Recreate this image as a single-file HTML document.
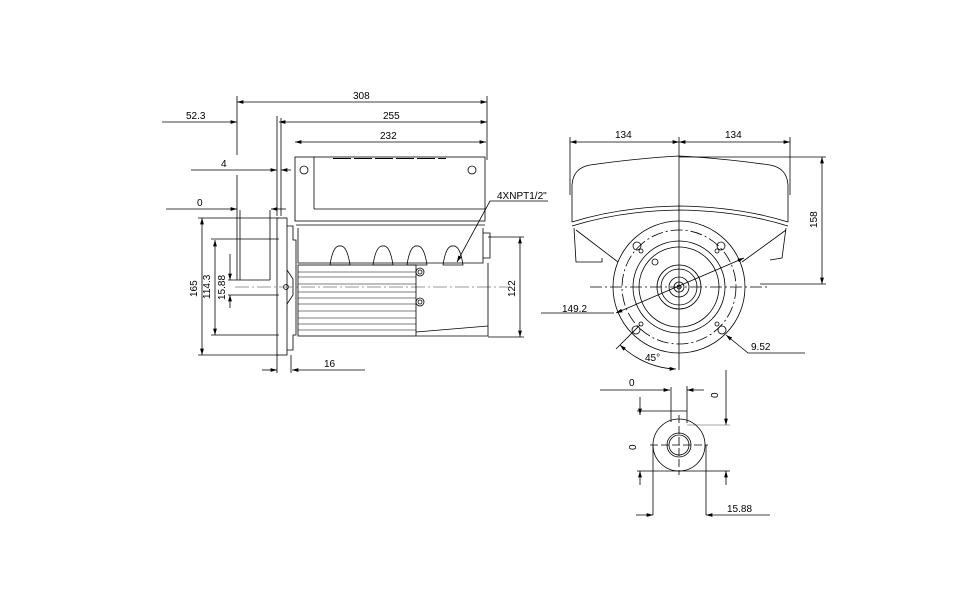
<!DOCTYPE html>
<html><head><meta charset="utf-8"><style>
html,body{margin:0;padding:0;background:#fff;}
svg{display:block;}
text{font-family:"Liberation Sans",Arial,sans-serif;font-size:10px;fill:#000;}
</style></head><body>
<svg width="976" height="600" viewBox="0 0 976 600" xmlns="http://www.w3.org/2000/svg">
<defs>
<marker id="a" viewBox="0 0 10 6" refX="10" refY="3" markerWidth="8" markerHeight="5" orient="auto-start-reverse"><path d="M0,0 L10,3 L0,6z" fill="#000"/></marker>
</defs>
<g stroke="#000" stroke-width="0.8" fill="none">
<line x1="237" y1="102" x2="487" y2="102" marker-start="url(#a)" marker-end="url(#a)"/>
<line x1="162" y1="122" x2="237" y2="122" marker-end="url(#a)"/>
<line x1="279" y1="122" x2="487" y2="122" marker-start="url(#a)" marker-end="url(#a)"/>
<line x1="295" y1="142" x2="486" y2="142" marker-start="url(#a)" marker-end="url(#a)"/>
<line x1="191" y1="170" x2="277" y2="170" marker-end="url(#a)"/>
<line x1="281" y1="170" x2="291" y2="170" marker-start="url(#a)"/>
<line x1="166" y1="209" x2="237" y2="209" marker-end="url(#a)"/>
<line x1="271" y1="209" x2="286" y2="209" marker-start="url(#a)"/>
<line x1="237" y1="96" x2="237" y2="155"/>
<line x1="237" y1="175" x2="237" y2="280"/>
<line x1="277" y1="116" x2="277" y2="216"/>
<line x1="281" y1="118" x2="281" y2="216"/>
<line x1="487" y1="96" x2="487" y2="160"/>
<line x1="202" y1="218" x2="202" y2="355" marker-start="url(#a)" marker-end="url(#a)"/>
<line x1="198" y1="218" x2="279" y2="218"/>
<line x1="198" y1="355" x2="279" y2="355"/>
<line x1="215" y1="240" x2="215" y2="335" marker-start="url(#a)" marker-end="url(#a)"/>
<line x1="211" y1="239" x2="279" y2="239"/>
<line x1="211" y1="335" x2="279" y2="335"/>
<line x1="230" y1="254" x2="230" y2="280" marker-end="url(#a)"/>
<line x1="230" y1="295" x2="230" y2="308" marker-start="url(#a)"/>
<line x1="228" y1="280" x2="270" y2="280"/>
<line x1="228" y1="295" x2="279" y2="295"/>
<line x1="520" y1="237" x2="520" y2="337" marker-start="url(#a)" marker-end="url(#a)"/>
<line x1="488" y1="237" x2="524" y2="237"/>
<line x1="488" y1="337" x2="524" y2="337"/>
<line x1="262" y1="370" x2="277" y2="370" marker-end="url(#a)"/>
<line x1="292" y1="370" x2="365" y2="370" marker-start="url(#a)"/>
<line x1="277" y1="355" x2="277" y2="373"/>
<line x1="291" y1="355" x2="291" y2="373"/>
<line x1="240" y1="210" x2="240" y2="280"/>
<line x1="270" y1="210" x2="270" y2="280"/>
<rect x="277" y="218" width="10" height="137"/>
<path d="M287,226 L293,226 L293,240 L296,240 L296,335 L293,335 L293,350 L287,350"/>
<path d="M287,270 L293,279 L293,295 L287,304"/>
<circle cx="286" cy="287" r="2.5"/>
<line x1="235" y1="287" x2="508" y2="287" stroke="#777" stroke-dasharray="14,3,2,3"/>
<rect x="295" y="157" width="190" height="64"/>
<line x1="314" y1="157" x2="314" y2="209"/>
<line x1="314" y1="209" x2="485" y2="209"/>
<line x1="333" y1="158.5" x2="446" y2="158.5" stroke-width="1" stroke-dasharray="18,3"/>
<circle cx="304" cy="170" r="4"/>
<circle cx="472" cy="170" r="4"/>
<line x1="296" y1="225" x2="485" y2="225"/>
<path d="M298,228 L298,263 L483,263 L483,228"/>
<path d="M483,233 L490,233 L490,258 L483,258"/>
<path d="M330,265 Q333,245 340,246 Q347,245 350,265z"/>
<path d="M373,265 Q376,245 383,246 Q390,245 393,265z"/>
<path d="M407,265 Q410,245 417,246 Q424,245 427,265z"/>
<path d="M443,265 Q446,245 453,246 Q460,245 463,265z"/>
<rect x="298" y="265" width="118" height="71"/>
<g stroke-width="0.6">
<line x1="298" y1="272" x2="416" y2="272"/><line x1="298" y1="277" x2="416" y2="277"/>
<line x1="298" y1="284" x2="416" y2="284"/><line x1="298" y1="292" x2="416" y2="292"/>
<line x1="298" y1="298" x2="416" y2="298"/><line x1="298" y1="304" x2="416" y2="304"/>
<line x1="298" y1="311" x2="416" y2="311"/><line x1="298" y1="318" x2="416" y2="318"/>
<line x1="298" y1="324" x2="416" y2="324"/><line x1="298" y1="330" x2="416" y2="330"/>
</g>
<circle cx="420" cy="272" r="4"/><circle cx="420" cy="272" r="2"/>
<circle cx="420" cy="302" r="4"/><circle cx="420" cy="302" r="2"/>
<path d="M416,332 L488,326"/>
<path d="M416,336 L488,336 L488,263"/>
<path d="M548,201 L490,201 L457,262" marker-end="url(#a)"/>
<line x1="570" y1="142" x2="679" y2="142" marker-start="url(#a)" marker-end="url(#a)"/>
<line x1="679" y1="142" x2="790" y2="142" marker-start="url(#a)" marker-end="url(#a)"/>
<line x1="570" y1="137" x2="570" y2="195"/>
<line x1="790" y1="137" x2="790" y2="195"/>
<line x1="679" y1="137" x2="679" y2="370"/>
<line x1="822" y1="157" x2="822" y2="284" marker-start="url(#a)" marker-end="url(#a)"/>
<line x1="679" y1="157" x2="826" y2="157"/>
<line x1="760" y1="284" x2="826" y2="284"/>
<path d="M572,222 L572,185 Q573,168 590,165 Q640,158 679,156 Q720,158 770,165 Q787,168 788,185 L788,222"/>
<path d="M572,222 Q620,207 679,206 Q740,207 788,222"/>
<path d="M572,226 Q620,211 679,210 Q740,211 788,226"/>
<path d="M574,228 L576,262 L602,262 L602,258"/>
<path d="M786,228 L782,258 L770,260"/>
<path d="M576,230 L618,262"/>
<path d="M786,230 L742,262"/>
<circle cx="679" cy="287" r="66"/>
<circle cx="679" cy="287" r="57" stroke-dasharray="12,3,2,3"/>
<circle cx="679" cy="287" r="46"/>
<circle cx="679" cy="287" r="40"/>
<circle cx="679" cy="287" r="22"/>
<circle cx="679" cy="287" r="18"/>
<circle cx="679" cy="287" r="10"/>
<circle cx="679" cy="287" r="5"/>
<circle cx="679" cy="287" r="2"/>
<circle cx="637" cy="246" r="4"/><circle cx="641" cy="251" r="2"/>
<circle cx="721" cy="246" r="4"/><circle cx="717" cy="251" r="2"/>
<circle cx="636" cy="330" r="4"/><circle cx="641" cy="324" r="2"/>
<circle cx="722" cy="330" r="4"/><circle cx="717" cy="324" r="2"/>
<circle cx="655" cy="262" r="3"/>
<line x1="590" y1="287" x2="770" y2="287" stroke-dasharray="12,3,2,3"/>
<path d="M541,313 L614,313"/>
<line x1="616" y1="313" x2="744" y2="258" marker-start="url(#a)" marker-end="url(#a)"/>
<path d="M805,353 L748,353 L726,335" marker-end="url(#a)"/>
<path d="M620,345 Q645,368 676,369" marker-start="url(#a)" marker-end="url(#a)"/>
<line x1="616" y1="349" x2="640" y2="325"/>
<line x1="600" y1="390" x2="670" y2="390" marker-end="url(#a)"/>
<line x1="687" y1="390" x2="704" y2="390" marker-start="url(#a)"/>
<line x1="671" y1="387" x2="671" y2="422"/>
<line x1="687" y1="386" x2="687" y2="423"/>
<line x1="640" y1="397" x2="640" y2="415" marker-end="url(#a)"/>
<line x1="640" y1="471" x2="640" y2="485" marker-start="url(#a)"/>
<line x1="637" y1="411" x2="687" y2="411"/>
<line x1="726" y1="370" x2="726" y2="425" marker-end="url(#a)"/>
<line x1="726" y1="471" x2="726" y2="485" marker-start="url(#a)"/>
<line x1="687" y1="425" x2="730" y2="425" stroke="#888"/>
<line x1="637" y1="471" x2="730" y2="471"/>
<circle cx="679" cy="445" r="26"/>
<circle cx="679" cy="445" r="12"/>
<circle cx="679" cy="445" r="10"/>
<line x1="650" y1="445" x2="708" y2="445" stroke-dasharray="8,3"/>
<line x1="679" y1="415" x2="679" y2="475" stroke-dasharray="8,3"/>
<line x1="653" y1="445" x2="653" y2="515"/>
<line x1="706" y1="445" x2="706" y2="515"/>
<line x1="636" y1="515" x2="653" y2="515" marker-end="url(#a)"/>
<line x1="706" y1="515" x2="770" y2="515" marker-start="url(#a)"/>
</g>
<text x="353" y="99">308</text>
<text x="186" y="119">52.3</text>
<text x="383" y="119">255</text>
<text x="380" y="139">232</text>
<text x="221" y="167">4</text>
<text x="197" y="206">0</text>
<text x="324" y="367">16</text>
<text x="497" y="199">4XNPT1/2"</text>
<text transform="translate(197,297) rotate(-90)">165</text>
<text transform="translate(210,299) rotate(-90)">114.3</text>
<text transform="translate(225,300) rotate(-90)">15.88</text>
<text transform="translate(515,297) rotate(-90)">122</text>
<text x="615" y="138">134</text>
<text x="725" y="138">134</text>
<text transform="translate(817,228) rotate(-90)">158</text>
<text x="562" y="312">149.2</text>
<text x="751" y="350">9.52</text>
<text x="645" y="361">45°</text>
<text x="629" y="386">0</text>
<text transform="translate(718,398) rotate(-90)">0</text>
<text transform="translate(636,450) rotate(-90)">0</text>
<text x="727" y="512">15.88</text>
</svg>
</body></html>
